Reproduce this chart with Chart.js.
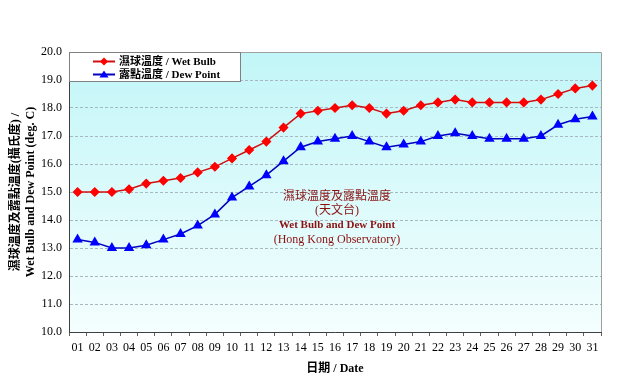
<!DOCTYPE html>
<html>
<head>
<meta charset="utf-8">
<script src="https://cdn.jsdelivr.net/npm/chart.js@4.4.1/dist/chart.umd.min.js"></script>
<style>
html,body{margin:0;padding:0;background:#fff;}
#wrap{width:635px;height:390px;}
</style>
</head>
<body>
<div id="wrap"><canvas id="c" width="635" height="390"></canvas></div>
<script>
const dates = ['01','02','03','04','05','06','07','08','09','10','11','12','13','14','15','16','17','18','19','20','21','22','23','24','25','26','27','28','29','30','31'];
const wetBulb = [15.0,15.0,15.0,15.1,15.3,15.4,15.5,15.7,15.9,16.2,16.5,16.8,17.3,17.8,17.9,18.0,18.1,18.0,17.8,17.9,18.1,18.2,18.3,18.2,18.2,18.2,18.2,18.3,18.5,18.7,18.8];
const dewPoint = [13.3,13.2,13.0,13.0,13.1,13.3,13.5,13.8,14.2,14.8,15.2,15.6,16.1,16.6,16.8,16.9,17.0,16.8,16.6,16.7,16.8,17.0,17.1,17.0,16.9,16.9,16.9,17.0,17.4,17.6,17.7];
const seriesNames = ['濕球溫度 / Wet Bulb', '露點溫度 / Dew Point'];
const yTitle = ['濕球溫度及露點溫度(攝氏度) /', 'Wet Bulb and Dew Point (deg. C)'];
const xTitle = '日期 / Date';
const noteLines = ['濕球溫度及露點溫度', '(天文台)', 'Wet Bulb and Dew Point', '(Hong Kong Observatory)'];

const FONT = "'Liberation Serif', 'Noto Sans CJK TC', serif";

const bgPlugin = {
  id: 'bg',
  beforeDraw(chart) {
    const {ctx, chartArea: a} = chart;
    ctx.save();
    const g = ctx.createLinearGradient(0, a.top, 0, a.bottom);
    g.addColorStop(0, '#c2f6f8');
    g.addColorStop(1, '#f4fefe');
    ctx.fillStyle = g;
    ctx.fillRect(a.left, a.top, a.right - a.left, a.bottom - a.top);
    ctx.restore();
  },
  afterDraw(chart) {
    const {ctx, chartArea: a} = chart;
    ctx.save();
    // frame
    ctx.strokeStyle = '#a0a0a0';
    ctx.lineWidth = 1;
    ctx.beginPath();
    ctx.moveTo(a.left, a.top + 0.5);
    ctx.lineTo(a.right + 0.5, a.top + 0.5);
    ctx.lineTo(a.right + 0.5, a.bottom);
    ctx.stroke();
    ctx.strokeStyle = '#404040';
    ctx.beginPath();
    ctx.moveTo(a.left + 0.5, a.top);
    ctx.lineTo(a.left + 0.5, a.bottom + 0.5);
    ctx.lineTo(a.right + 0.5, a.bottom + 0.5);
    ctx.stroke();

    // legend box
    const bx = a.left + 0.5, by = a.top + 0.5, bw = 171, bh = 29;
    ctx.fillStyle = '#ffffff';
    ctx.fillRect(bx, by, bw, bh);
    ctx.strokeStyle = '#808080';
    ctx.strokeRect(bx, by, bw, bh);
    const rows = [
      {y: by + 9, line: '#d01010', fill: '#ff0000', shape: 'diamond', text: seriesNames[0]},
      {y: by + 22, line: '#0000c0', fill: '#0000ff', shape: 'tri', text: seriesNames[1]}
    ];
    rows.forEach(r => {
      ctx.strokeStyle = r.line;
      ctx.lineWidth = 2;
      ctx.beginPath();
      ctx.moveTo(a.left + 24, r.y);
      ctx.lineTo(a.left + 46, r.y);
      ctx.stroke();
      ctx.fillStyle = r.fill;
      ctx.beginPath();
      const cx = a.left + 35;
      if (r.shape === 'diamond') {
        ctx.moveTo(cx, r.y - 4); ctx.lineTo(cx + 4, r.y); ctx.lineTo(cx, r.y + 4); ctx.lineTo(cx - 4, r.y);
      } else {
        ctx.moveTo(cx, r.y - 4); ctx.lineTo(cx + 4.5, r.y + 3); ctx.lineTo(cx - 4.5, r.y + 3);
      }
      ctx.closePath();
      ctx.fill();
      ctx.fillStyle = '#000';
      ctx.font = 'bold 11px ' + FONT;
      ctx.textAlign = 'left';
      ctx.textBaseline = 'middle';
      ctx.fillText(r.text, a.left + 50, r.y + 0.5);
    });

    // annotation
    ctx.fillStyle = '#8b1010';
    ctx.textAlign = 'center';
    ctx.textBaseline = 'middle';
    const cx = 337;
    ctx.font = '12px ' + FONT;
    ctx.fillText(noteLines[0], cx, 197);
    ctx.fillText(noteLines[1], cx, 211);
    ctx.font = 'bold 11px ' + FONT;
    ctx.fillText(noteLines[2], cx, 225);
    ctx.font = '12px ' + FONT;
    ctx.fillText(noteLines[3], cx, 240);
    ctx.restore();
  }
};

new Chart(document.getElementById('c'), {
  type: 'line',
  data: {
    labels: dates,
    datasets: [
      {
        label: seriesNames[0],
        data: wetBulb,
        borderColor: '#d01010',
        backgroundColor: '#ff0000',
        pointBackgroundColor: '#ff0000',
        pointBorderColor: '#ff0000',
        pointStyle: 'rectRot',
        pointRadius: 4,
        borderWidth: 1.5,
        tension: 0
      },
      {
        label: seriesNames[1],
        data: dewPoint,
        borderColor: '#0000c0',
        backgroundColor: '#0000ff',
        pointBackgroundColor: '#0000ff',
        pointBorderColor: '#0000ff',
        pointStyle: 'triangle',
        pointRadius: 4.5,
        borderWidth: 1.5,
        tension: 0
      }
    ]
  },
  options: {
    responsive: false,
    devicePixelRatio: 1,
    animation: false,
    layout: {padding: {left: 0, top: 52, right: 34, bottom: 0}},
    plugins: {legend: {display: false}, tooltip: {enabled: false}},
    scales: {
      x: {
        offset: true,
        grid: {offset: true, drawOnChartArea: false, drawTicks: true, tickLength: 4, color: '#606060'},
        border: {display: false},
        ticks: {color: '#000', font: {family: FONT, size: 12}, padding: 5, maxRotation: 0, autoSkip: false},
        title: {display: true, text: xTitle, color: '#000', font: {family: FONT, size: 12, weight: 'bold'}, padding: {top: 0, bottom: 14}},
        afterFit(s) { s.height = 58; }
      },
      y: {
        min: 10, max: 20,
        ticks: {stepSize: 1, color: '#000', font: {family: FONT, size: 12}, padding: 7, callback: v => Number(v).toFixed(1)},
        grid: {color: '#a8b8c0', drawTicks: false, lineWidth: 1, borderDash: [3, 2]},
        border: {display: true, color: '#404040', dash: [3, 2]},
        title: {display: true, text: yTitle, color: '#000', font: {family: FONT, size: 12, weight: 'bold'}, padding: {top: 9, bottom: 0}},
        afterFit(s) { s.width = 69; }
      }
    }
  },
  plugins: [bgPlugin]
});
</script>
</body>
</html>
